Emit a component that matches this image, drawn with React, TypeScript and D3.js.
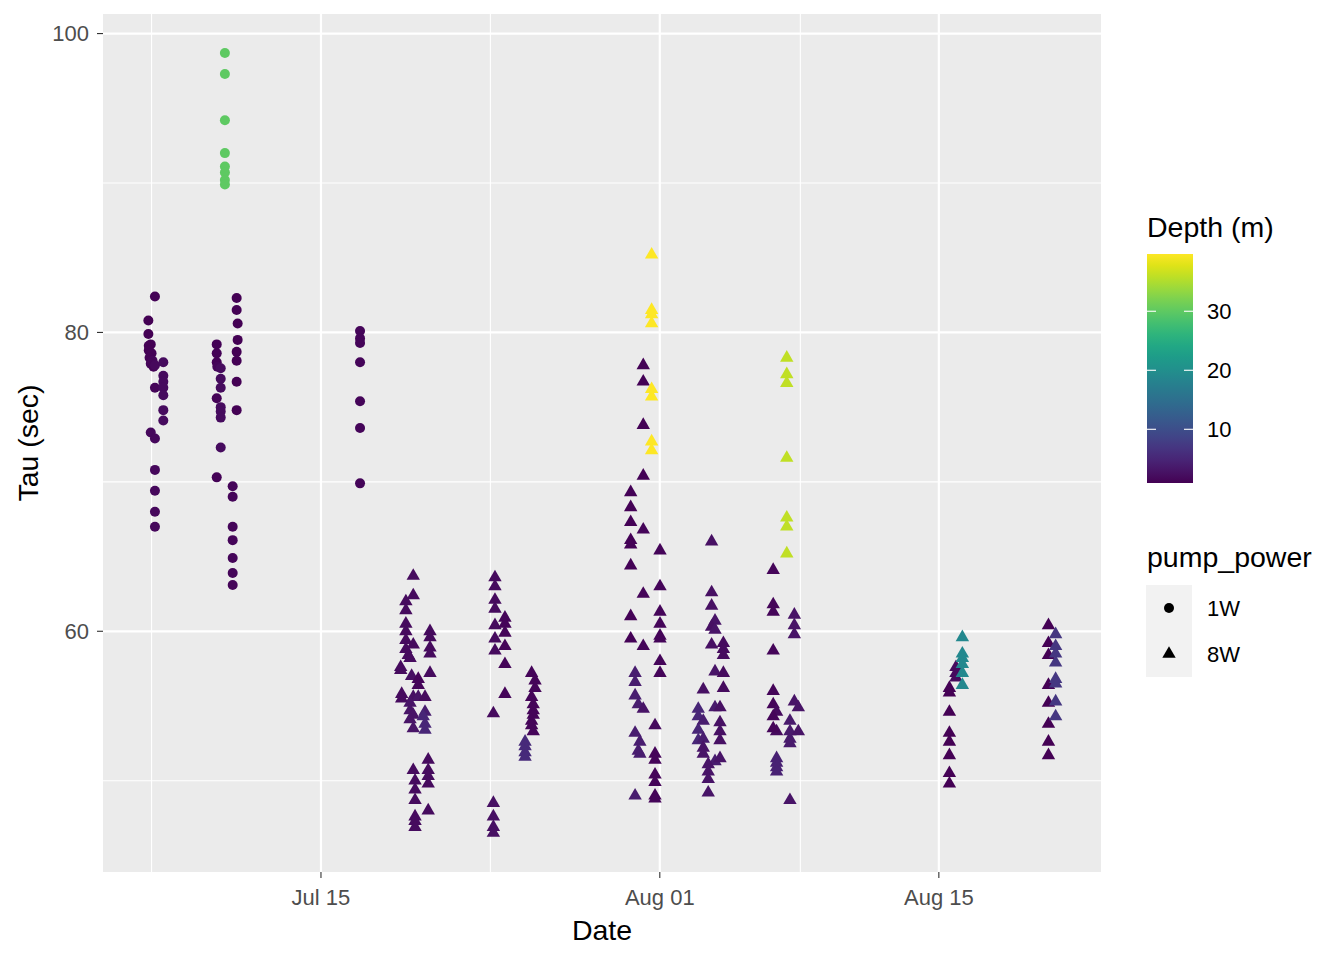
import React from "react";
import * as d3 from "d3";

// [day of July (fractional; 32 = Aug 1), tau (sec), depth (m)]
type P = [number, number, number];

// ---- pump_power 1W (circles) ----
const jul06: P[] = [
  [6.67, 82.4, 1.2], [6.34, 80.8, 1.0], [6.34, 79.9, 1.0], [6.46, 79.2, 1.1], [6.36, 79.1, 1.0],
  [6.36, 78.8, 0.9], [6.5, 78.6, 1.2], [6.4, 78.3, 1.1], [6.55, 78.1, 1.5], [6.46, 77.9, 1.4],
  [6.6, 77.7, 1.3], [7.09, 78.0, 2.0], [6.67, 77.8, 1.8], [7.09, 77.1, 2.0], [7.09, 76.7, 2.0],
  [6.67, 76.3, 1.5], [7.09, 76.3, 2.0], [7.09, 75.8, 2.0], [7.09, 74.8, 2.0], [7.09, 74.1, 2.0],
  [6.46, 73.3, 1.8], [6.67, 72.9, 1.8], [6.67, 70.8, 1.8], [6.67, 69.4, 1.8], [6.67, 68.0, 1.8],
  [6.67, 67.0, 1.8],
];
const jul10: P[] = [
  [9.77, 79.2, 1.2], [9.77, 78.6, 1.2], [9.77, 78.0, 1.2], [9.8, 77.7, 1.4], [9.97, 77.6, 2.0],
  [9.97, 76.9, 2.0], [9.97, 76.3, 2.0], [9.77, 75.6, 1.2], [9.97, 75.0, 2.0], [9.97, 74.7, 2.0],
  [9.97, 74.3, 2.0], [9.97, 72.3, 2.0], [9.77, 70.3, 1.2],
  [10.77, 82.3, 1.0], [10.77, 81.5, 1.0], [10.82, 80.6, 1.0], [10.82, 79.5, 1.0], [10.77, 78.7, 1.0],
  [10.77, 78.1, 1.0], [10.77, 76.7, 1.0], [10.77, 74.8, 1.0], [10.57, 69.7, 1.5], [10.57, 69.0, 1.5],
  [10.57, 67.0, 1.5], [10.57, 66.1, 1.5], [10.57, 64.9, 1.5], [10.57, 63.9, 1.5], [10.57, 63.1, 1.5],
];
const jul10Deep: P[] = [
  [10.18, 98.7, 30], [10.18, 97.3, 30], [10.18, 94.2, 30], [10.18, 92.0, 30],
  [10.18, 91.1, 30], [10.18, 90.7, 30], [10.18, 90.2, 30], [10.18, 89.9, 30],
];
const jul17: P[] = [
  [16.96, 80.1, 1.5], [16.96, 79.6, 1.5], [16.96, 79.3, 1.5], [16.96, 78.0, 1.5],
  [16.96, 75.4, 1.5], [16.96, 73.6, 1.5], [16.96, 69.9, 1.5],
];

// ---- pump_power 8W (triangles) ----
const jul19: P[] = [
  [19.63, 63.7, 2], [19.63, 62.4, 2], [19.26, 62.0, 2], [19.26, 61.4, 2], [19.26, 60.5, 2],
  [19.26, 60.0, 2], [20.47, 60.0, 2], [20.47, 59.6, 2], [19.26, 59.4, 2], [19.63, 59.1, 2],
  [19.26, 58.8, 2], [20.47, 58.9, 2], [20.47, 58.5, 2], [19.38, 58.4, 2], [19.47, 58.2, 2],
  [19.0, 57.6, 2], [19.0, 57.4, 2], [20.47, 57.2, 2], [19.55, 57.0, 2.5], [19.88, 56.8, 1.5],
  [19.88, 56.4, 1.5], [19.05, 55.8, 2], [19.05, 55.5, 2], [19.63, 55.6, 2.5], [19.88, 55.6, 3],
  [20.22, 55.6, 2], [19.47, 55.2, 3], [19.47, 54.7, 3], [20.22, 54.6, 4], [19.63, 54.4, 3],
  [20.13, 54.3, 5], [19.47, 54.1, 3], [20.22, 53.8, 5], [19.63, 53.5, 3], [20.22, 53.4, 5],
  [20.38, 51.4, 2], [20.38, 50.7, 2], [20.38, 50.3, 2], [19.63, 50.7, 2], [19.72, 50.0, 2],
  [20.38, 49.8, 2], [19.72, 49.4, 2], [19.72, 48.7, 2], [20.38, 48.0, 2], [19.72, 47.6, 2],
  [19.72, 47.3, 2], [19.72, 46.9, 2],
];
const jul24: P[] = [
  [23.73, 63.6, 2], [23.73, 63.0, 2], [23.73, 62.1, 2], [23.73, 61.5, 2], [24.23, 60.9, 1.5],
  [24.23, 60.5, 1.5], [23.73, 60.4, 2], [24.23, 59.9, 1.5], [23.73, 59.5, 2], [24.23, 59.0, 1.5],
  [23.73, 58.7, 2], [24.23, 57.8, 1.5], [24.23, 55.8, 1.5], [23.65, 54.5, 2],
  [25.57, 57.2, 1.5], [25.74, 56.7, 1.5], [25.74, 56.2, 1.5], [25.57, 55.6, 1.5], [25.65, 55.1, 1.5],
  [25.65, 54.7, 1.5], [25.65, 54.4, 1.5], [25.57, 54.0, 1.5], [25.57, 53.7, 1.5], [25.65, 53.3, 1.5],
  [25.24, 52.6, 5.5], [25.24, 52.3, 5.5], [25.24, 51.9, 5.5], [25.24, 51.6, 5.5],
  [23.65, 48.5, 2.5], [23.65, 47.6, 2.5], [23.65, 46.9, 2.5], [23.65, 46.5, 2.5],
];
const jul31: P[] = [
  [31.17, 77.8, 1.2], [31.17, 76.7, 1.2], [31.17, 73.8, 1.2], [31.17, 70.4, 1.2], [30.54, 69.3, 1.2],
  [30.54, 68.3, 1.2], [30.54, 67.3, 1.2], [31.17, 66.8, 1.5], [30.54, 66.1, 1.2], [30.54, 65.8, 1.2],
  [32.01, 65.4, 1.5], [30.54, 64.4, 1.2], [32.01, 63.0, 1.5], [31.17, 62.5, 1.5], [32.01, 61.3, 1.5],
  [30.54, 61.0, 1.2], [32.01, 60.5, 1.5], [32.01, 59.7, 1.5], [32.01, 59.5, 1.5], [30.54, 59.5, 1.2],
  [31.17, 59.0, 1.5], [32.01, 58.0, 1.5], [32.01, 57.2, 1.5], [30.76, 57.2, 4], [30.76, 56.6, 4],
  [30.76, 55.7, 4], [30.92, 55.1, 4], [31.17, 54.8, 3], [31.76, 53.7, 2], [30.76, 53.2, 4],
  [31.0, 52.6, 4], [30.92, 52.0, 4], [31.0, 51.8, 4], [31.76, 51.8, 1.5], [31.76, 51.4, 1.5],
  [31.76, 50.4, 1.5], [31.76, 49.9, 1.5], [30.76, 49.0, 4], [31.76, 49.0, 1.5], [31.76, 48.8, 1.5],
];
const jul31Deep: P[] = [
  [31.59, 85.2, 39.7], [31.59, 81.5, 39.7], [31.59, 81.2, 39.7], [31.59, 80.6, 39.7],
  [31.59, 76.2, 39.7], [31.59, 75.7, 39.7], [31.59, 72.7, 39.7], [31.59, 72.1, 39.7],
];
const aug03: P[] = [
  [34.6, 66.0, 2.5], [34.6, 62.6, 2.5], [34.6, 61.7, 2.5], [34.77, 60.7, 3], [34.6, 60.3, 2.5],
  [34.77, 60.1, 3], [35.19, 59.2, 2], [34.6, 59.1, 2.5], [35.19, 58.8, 2], [35.19, 58.4, 2],
  [34.77, 57.3, 3], [35.19, 57.2, 2], [35.19, 56.2, 2], [34.18, 56.1, 2.5], [33.93, 54.8, 5],
  [34.77, 54.9, 3.5], [35.02, 54.9, 2.5], [33.93, 54.3, 5], [34.18, 54.0, 4], [35.02, 53.9, 2.5],
  [33.93, 53.4, 5], [35.02, 53.3, 2.5], [35.02, 52.7, 2.5], [33.93, 52.7, 5], [34.18, 52.8, 4],
  [34.18, 52.2, 3], [34.18, 51.8, 3], [35.02, 51.5, 3], [34.77, 51.3, 4], [34.43, 51.1, 3],
  [34.43, 50.6, 3], [34.43, 50.1, 3], [34.43, 49.2, 3],
];
const aug07: P[] = [
  [37.69, 64.1, 1.5], [37.69, 61.8, 1.5], [37.69, 61.3, 1.5], [38.75, 61.1, 3], [38.75, 60.4, 3],
  [38.75, 59.8, 3], [37.69, 58.7, 1.5], [37.69, 56.0, 1.5], [37.69, 55.1, 1.5], [38.75, 55.3, 3],
  [38.95, 54.9, 3], [37.86, 54.6, 2], [37.69, 54.3, 1.5], [38.53, 54.0, 3.5], [38.53, 53.3, 3.5],
  [38.95, 53.3, 3], [37.86, 53.3, 2], [37.69, 53.5, 1.5], [38.53, 52.8, 3.5], [38.53, 52.5, 3.5],
  [37.86, 51.5, 4.5], [37.86, 51.2, 4.5], [37.86, 50.9, 4.5], [37.86, 50.6, 4.5], [38.53, 48.7, 3],
];
const aug07Deep: P[] = [
  [38.37, 78.3, 36], [38.37, 77.2, 36], [38.37, 76.6, 36], [38.37, 71.6, 36],
  [38.37, 67.6, 36], [38.37, 67.0, 36], [38.37, 65.2, 36],
];
const aug16: P[] = [
  [46.86, 57.6, 2], [46.86, 57.2, 2], [46.86, 56.9, 2],
  [46.53, 56.2, 1], [46.53, 55.9, 1], [46.53, 54.6, 1], [46.53, 53.2, 1],
  [46.53, 52.6, 1], [46.53, 51.7, 1], [46.53, 50.5, 1], [46.53, 49.8, 1],
];
const aug16Deep: P[] = [
  [47.18, 59.6, 19], [47.18, 58.5, 19], [47.18, 58.2, 19],
  [47.18, 57.8, 19], [47.18, 57.2, 19], [47.18, 56.4, 19],
];
const aug21: P[] = [
  [51.5, 60.4, 1], [51.5, 59.2, 1], [51.5, 58.4, 1], [51.5, 56.4, 1],
  [51.5, 55.2, 1], [51.5, 53.8, 1], [51.5, 52.6, 1], [51.5, 51.7, 1],
  [51.86, 59.8, 7], [51.86, 59.0, 7], [51.86, 58.5, 7], [51.86, 57.9, 7],
  [51.86, 56.8, 7], [51.86, 56.5, 7], [51.86, 55.3, 7], [51.86, 54.3, 7],
];

const pump1W: P[][] = [jul06, jul10, jul10Deep, jul17];
const pump8W: P[][] = [jul19, jul24, jul31, jul31Deep, aug03, aug07, aug07Deep, aug16, aug16Deep, aug21];

const yMajor = [60, 80, 100];
const yMinor = [50, 70, 90];
const xMajorDays = [15, 32, 46]; // Jul 15, Aug 01, Aug 15
const xMinorDays = [6.5, 23.5, 39.05]; // midpoints
const depthTicks = [10, 20, 30];
const shapeLabels = ["1W", "8W"];

const toDate = (d: number) => new Date(Date.UTC(2021, 6, 1) + (d - 1) * 864e5);

type Pt = { day: number; tau: number; depth: number; pump: string };
const points: Pt[] = [
  ...pump1W.flat().map(([day, tau, depth]) => ({ day, tau, depth, pump: "1W" })),
  ...pump8W.flat().map(([day, tau, depth]) => ({ day, tau, depth, pump: "8W" })),
];
const ordered = [...points].sort((a, b) => Math.floor(a.day) - Math.floor(b.day));

const FONT = "Liberation Sans, Arial, sans-serif";

export default function App() {
  const panel = { l: 103, r: 1101, t: 14, b: 872 };

  const dayExt = d3.extent(points, (p) => p.day) as [number, number];
  const dSpan = dayExt[1] - dayExt[0];
  const x = d3
    .scaleUtc()
    .domain([toDate(dayExt[0] - 0.05 * dSpan), toDate(dayExt[1] + 0.05 * dSpan)])
    .range([panel.l, panel.r]);

  const tauExt = d3.extent(points, (p) => p.tau) as [number, number];
  const tSpan = tauExt[1] - tauExt[0];
  const y = d3
    .scaleLinear()
    .domain([tauExt[0] - 0.05 * tSpan, tauExt[1] + 0.05 * tSpan])
    .range([panel.b, panel.t]);

  const depthExt = d3.extent(points, (p) => p.depth) as [number, number];
  const color = d3.scaleSequential(d3.interpolateViridis).domain(depthExt);

  const bar = { x: 1147, y: 254, w: 46, h: 229 };
  const barY = d3.scaleLinear().domain(depthExt).range([bar.y + bar.h, bar.y]);

  const tri = d3.symbol(d3.symbolTriangle, 78)();
  const fmt = d3.utcFormat("%b %d");
  const R = 5;
  const stops = d3.range(0, 1.0001, 0.05);

  return (
    <svg width={1344} height={960} style={{ position: "absolute", left: 0, top: 0 }} fontFamily={FONT}>
      <defs>
        <linearGradient id="vir" x1="0" y1="1" x2="0" y2="0">
          {stops.map((s) => (
            <stop key={s} offset={s} stopColor={d3.interpolateViridis(s)} />
          ))}
        </linearGradient>
      </defs>
      <rect x={0} y={0} width={1344} height={960} fill="#FFFFFF" />
      <rect x={panel.l} y={panel.t} width={panel.r - panel.l} height={panel.b - panel.t} fill="#EBEBEB" />
      {yMinor.map((v) => (
        <line key={"ym" + v} x1={panel.l} x2={panel.r} y1={y(v)} y2={y(v)} stroke="#FFFFFF" strokeWidth={1.1} />
      ))}
      {xMinorDays.map((d) => (
        <line key={"xm" + d} y1={panel.t} y2={panel.b} x1={x(toDate(d))} x2={x(toDate(d))} stroke="#FFFFFF" strokeWidth={1.1} />
      ))}
      {yMajor.map((v) => (
        <line key={"yM" + v} x1={panel.l} x2={panel.r} y1={y(v)} y2={y(v)} stroke="#FFFFFF" strokeWidth={2.2} />
      ))}
      {xMajorDays.map((d) => (
        <line key={"xM" + d} y1={panel.t} y2={panel.b} x1={x(toDate(d))} x2={x(toDate(d))} stroke="#FFFFFF" strokeWidth={2.2} />
      ))}

      {ordered.map((p, i) =>
        p.pump === "1W" ? (
          <circle key={i} cx={x(toDate(p.day))} cy={y(p.tau)} r={R} fill={color(p.depth)} />
        ) : (
          <path key={i} d={tri!} transform={`translate(${x(toDate(p.day))},${y(p.tau)})`} fill={color(p.depth)} />
        )
      )}

      {/* y axis */}
      {yMajor.map((v) => (
        <g key={"yt" + v}>
          <line x1={panel.l - 6} x2={panel.l} y1={y(v)} y2={y(v)} stroke="#333333" strokeWidth={1.1} />
          <text x={panel.l - 14} y={y(v)} dy="0.36em" textAnchor="end" fontSize={22} fill="#4D4D4D">
            {v}
          </text>
        </g>
      ))}
      {/* x axis */}
      {xMajorDays.map((d) => (
        <g key={"xt" + d}>
          <line x1={x(toDate(d))} x2={x(toDate(d))} y1={panel.b} y2={panel.b + 6} stroke="#333333" strokeWidth={1.1} />
          <text x={x(toDate(d))} y={905} textAnchor="middle" fontSize={22} fill="#4D4D4D">
            {fmt(toDate(d))}
          </text>
        </g>
      ))}
      <text x={(panel.l + panel.r) / 2} y={940} textAnchor="middle" fontSize={28.5} fill="#000">
        Date
      </text>
      <text
        transform={`translate(38,${(panel.t + panel.b) / 2}) rotate(-90)`}
        textAnchor="middle"
        fontSize={28.5}
        fill="#000"
      >
        Tau (sec)
      </text>

      {/* colour legend */}
      <text x={1147} y={237} fontSize={28.5} fill="#000">
        Depth (m)
      </text>
      <rect x={bar.x} y={bar.y} width={bar.w} height={bar.h} fill="url(#vir)" />
      {depthTicks.map((t) => (
        <g key={"dt" + t}>
          <line x1={bar.x} x2={bar.x + 9} y1={barY(t)} y2={barY(t)} stroke="#FFFFFF" strokeWidth={1.1} />
          <line x1={bar.x + bar.w - 9} x2={bar.x + bar.w} y1={barY(t)} y2={barY(t)} stroke="#FFFFFF" strokeWidth={1.1} />
          <text x={1207} y={barY(t)} dy="0.36em" fontSize={22} fill="#000">
            {t}
          </text>
        </g>
      ))}

      {/* shape legend */}
      <text x={1147} y={567} fontSize={28.5} fill="#000">
        pump_power
      </text>
      {shapeLabels.map((s, i) => {
        const cy = 608 + i * 46;
        return (
          <g key={s}>
            <rect x={1146} y={cy - 23} width={46} height={46} fill="#F2F2F2" />
            {i === 0 ? (
              <circle cx={1169} cy={cy} r={R} fill="#000" />
            ) : (
              <path d={tri!} transform={`translate(1169,${cy})`} fill="#000" />
            )}
            <text x={1207} y={cy} dy="0.36em" fontSize={22} fill="#000">
              {s}
            </text>
          </g>
        );
      })}
    </svg>
  );
}
